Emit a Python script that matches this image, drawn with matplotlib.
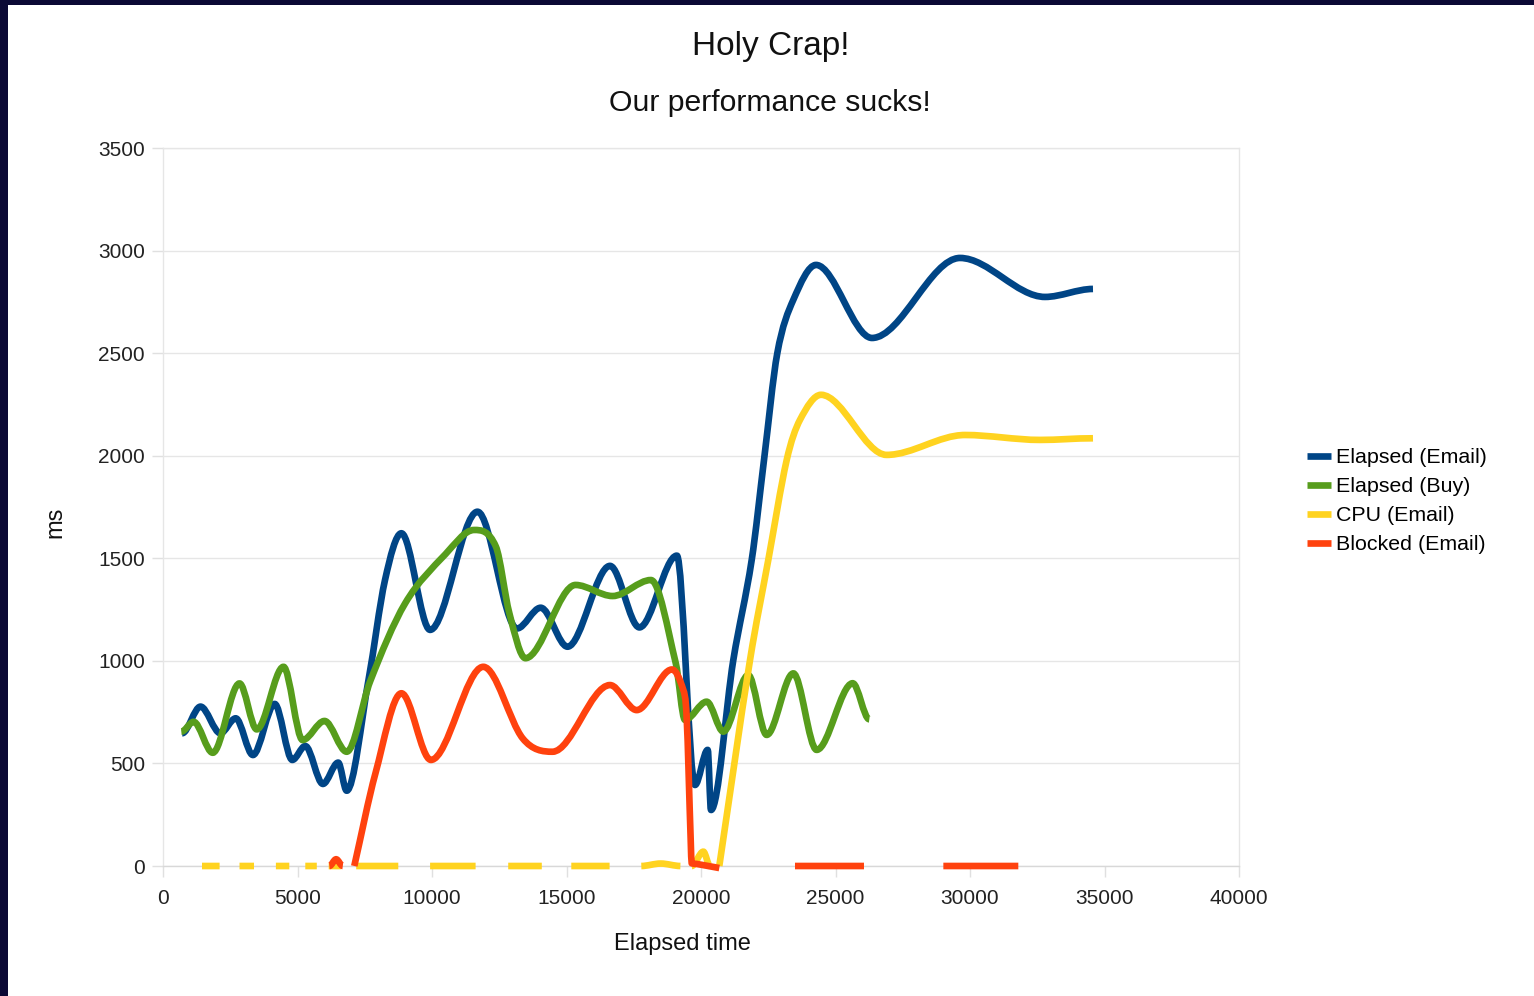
import numpy as np
import matplotlib
matplotlib.use("Agg")
import matplotlib.pyplot as plt
from matplotlib.path import Path
from matplotlib.patches import PathPatch, Rectangle
from matplotlib.lines import Line2D

plt.rcParams['font.family'] = ['Liberation Sans', 'DejaVu Sans']

nan = np.nan

# Elapsed (Email)
email_x = [710, 1394, 2134, 2703, 3342, 4152, 4807, 5290, 5944, 6513, 6829, 7640, 8253,
           8862, 9929, 11691, 13160, 14041, 15037, 16617, 17710, 19104, 19777, 20249,
           20372, 21201, 21885, 22342, 22837, 23432, 24275, 26357, 29628, 32788, 34572]
email_y = [647, 777, 647, 720, 541, 790, 517, 585, 400, 504, 367, 907, 1394,
           1622, 1151, 1727, 1158, 1259, 1069, 1463, 1163, 1513, 395, 566,
           273, 1004, 1492, 1979, 2500, 2760, 2930, 2574, 2964, 2774, 2813]

# Elapsed (Buy)
buy_x = [681, 1137, 1848, 2844, 3484, 4480, 5190, 6004, 6829, 7700, 9000, 10500, 11565,
         12375, 12874, 13472, 15335, 16714, 18138, 19063, 19405, 20212, 20829, 21758, 22442,
         23432, 24300, 25639, 26257]
buy_y = [655, 703, 552, 890, 666, 971, 614, 707, 557, 900, 1280, 1520, 1638,
         1557, 1233, 1013, 1370, 1316, 1394, 988, 712, 801, 655, 931, 639,
         939, 566, 891, 715]

# CPU (Email) - nan splits the pieces that stay on the zero line
cpu_x = [1450, 2104, nan, 2844, 3383, nan, 4197, 4695, nan, 5290, 5717, nan,
         6160, 6614, nan, 7182, 8747, nan, 9929, 11621, nan, 12833, 14082, nan,
         15178, 16602, nan, 17781, 18500, 19234, nan, 19654, 20086, 20335, nan,
         20680, 21822, 22502, 23186, 23680, 24461, 26900, 29814, 32602, 34572]
cpu_y = [0, 0, nan, 0, 0, nan, 0, 0, nan, 0, 0, nan,
         0, 0, nan, 0, 0, nan, 0, 0, nan, 0, 0, nan,
         0, 0, nan, 0, 12, 0, nan, 0, 70, 0, nan,
         0, 1004, 1492, 1979, 2175, 2297, 2004, 2101, 2077, 2085]

# Blocked (Email)
blocked_x = [6186, 6435, 6684, nan, 7111, 7896, 8862, 9959, 11907, 13372, 14480, 16617,
             17610, 18922, 19342, 19466, 19617, 19654, 19840, 20680, nan,
             23494, 26059, nan, 29009, 31796]
blocked_y = [0, 33, 0, nan, 0, 451, 842, 517, 971, 622, 557, 882,
             760, 958, 858, 728, 127, 13, 10, -10, nan,
             0, 0, nan, 0, 0]

series = [
    ("Elapsed (Email)", email_x, email_y, "#004586"),
    ("Elapsed (Buy)", buy_x, buy_y, "#579d1c"),
    ("CPU (Email)", cpu_x, cpu_y, "#ffd320"),
    ("Blocked (Email)", blocked_x, blocked_y, "#ff420e"),
]


def slopes(x, y):
    # central differences, flat at turning points, limited so there is no overshoot
    d = np.diff(y) / np.diff(x)
    n = len(x)
    m = np.zeros(n)
    if n == 2:
        m[:] = d[0]
        return m
    for k in range(1, n - 1):
        if d[k - 1] * d[k] <= 0:
            continue
        c = (y[k + 1] - y[k - 1]) / (x[k + 1] - x[k - 1])
        lim = 3 * min(abs(d[k - 1]), abs(d[k]))
        m[k] = np.sign(c) * min(abs(c), lim)
    m[0] = d[0] if d[0] * d[1] > 0 else 0
    m[-1] = d[-1] if d[-1] * d[-2] > 0 else 0
    return m


def smooth_path(x, y):
    m = slopes(x, y)
    verts = [(x[0], y[0])]
    codes = [Path.MOVETO]
    for i in range(len(x) - 1):
        h = x[i + 1] - x[i]
        verts += [(x[i] + h / 3, y[i] + m[i] * h / 3),
                  (x[i + 1] - h / 3, y[i + 1] - m[i + 1] * h / 3),
                  (x[i + 1], y[i + 1])]
        codes += [Path.CURVE4] * 3
    return Path(verts, codes)


def pieces(xs, ys):
    xs = np.array(xs, float)
    ys = np.array(ys, float)
    cut = np.where(np.isnan(xs))[0]
    start = 0
    for c in list(cut) + [len(xs)]:
        yield xs[start:c], ys[start:c]
        start = c + 1


fig = plt.figure(figsize=(15.34, 9.96), dpi=100, facecolor="#0b0935")
fig.patches.append(Rectangle((8 / 1534, 0), 1, 1 - 5 / 996, transform=fig.transFigure,
                             facecolor="white", edgecolor="none", zorder=-10))

ax = fig.add_axes([163 / 1534, 1 - 866 / 996, 1076 / 1534, 718 / 996])
ax.set_zorder(2)
ax.set_facecolor("white")

handles = []
for z, (name, xs, ys, col) in enumerate(series):
    for px, py in pieces(xs, ys):
        patch = PathPatch(smooth_path(px, py), fill=False, edgecolor=col, lw=4.8,
                          capstyle="butt", joinstyle="round", zorder=3 + z, clip_on=False)
        ax.add_patch(patch)
    handles.append(Line2D([], [], color=col, lw=4.8, solid_capstyle="butt", label=name))

ax.set_xlim(0, 40000)
ax.set_ylim(0, 3500)
ax.set_xticks(np.arange(0, 40001, 5000))
ax.set_yticks(np.arange(0, 3501, 500))
ax.yaxis.grid(True, color="#e6e6e6", lw=1)
ax.set_axisbelow(True)
for s in ax.spines.values():
    s.set_color("#e6e6e6")
    s.set_linewidth(1)
ax.spines["bottom"].set_color("#d8d8d8")
ax.tick_params(axis="both", direction="out", length=8, width=1, color="#e0e0e0",
               labelsize=15, labelcolor="#222222", pad=5)
ax.tick_params(axis="x", pad=8.5)

fig.text(771 / 1534, 1 - 46 / 996, "Holy Crap!", ha="center", va="center",
         fontsize=24, color="#111111")
fig.text(770 / 1534, 1 - 103 / 996, "Our performance sucks!", ha="center", va="center",
         fontsize=21.7, color="#111111")
fig.text(682 / 1534, 1 - 944 / 996, "Elapsed time", ha="center", va="center",
         fontsize=17, color="#111111")
fig.text(55 / 1534, 1 - 522 / 996, "ms", ha="center", va="center", rotation=90,
         fontsize=17, color="#111111")

ax.legend(handles=handles, loc="upper left", bbox_to_anchor=(1307 / 1534, 1 - 448 / 996),
          bbox_transform=fig.transFigure, frameon=False, fontsize=15.4,
          handlelength=1.1, handletextpad=0.25, labelspacing=0.47,
          borderpad=0, borderaxespad=0)

fig.savefig("out.png", dpi=100, facecolor=fig.get_facecolor())
